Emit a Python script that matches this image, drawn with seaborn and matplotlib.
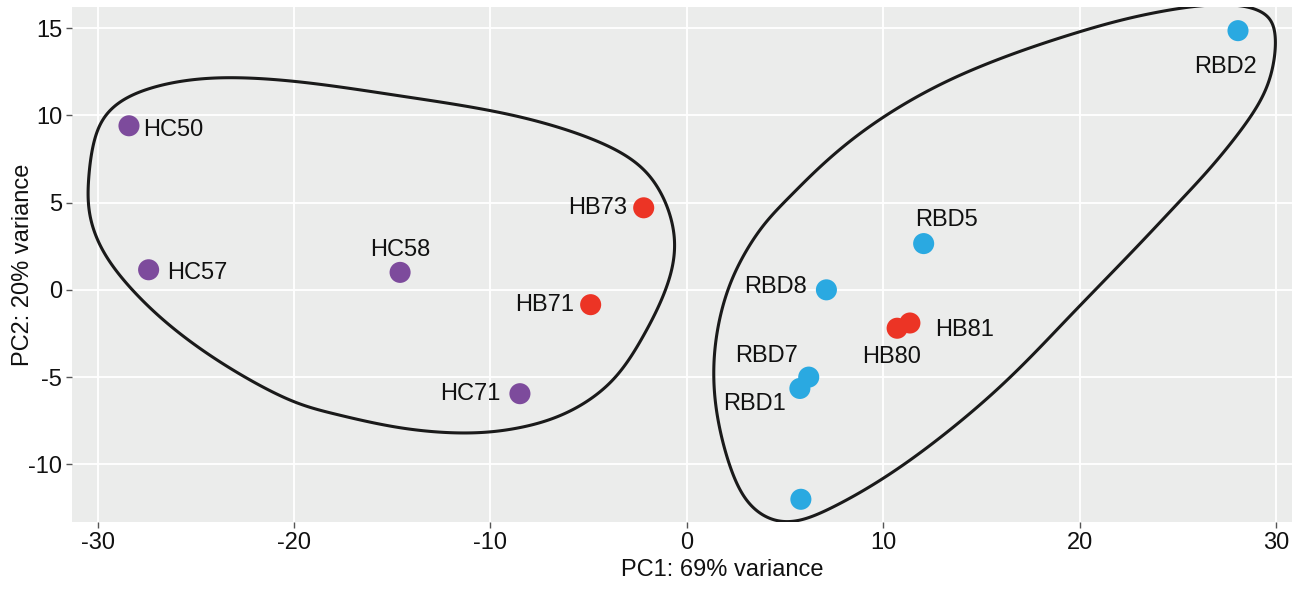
import numpy as np
import pandas as pd
import matplotlib
matplotlib.use("Agg")
from matplotlib import pyplot as plt
import seaborn as sns

# PCA scores
samples = ["HC50", "HC57", "HC58", "HC71", "HB73", "HB71", "RBD8", "RBD5",
           "HB80", "HB81", "RBD7", "RBD1", "RBD6", "RBD2"]
groups = ["HC", "HC", "HC", "HC", "HB", "HB", "RBD", "RBD",
          "HB", "HB", "RBD", "RBD", "RBD", "RBD"]
pc1 = [-28.4, -27.4, -14.6, -8.5, -2.2, -4.9, 7.1, 12.05,
       10.7, 11.35, 6.2, 5.75, 5.8, 28.05]
pc2 = [9.4, 1.15, 1.0, -5.95, 4.7, -0.85, 0.0, 2.65,
       -2.2, -1.9, -5.0, -5.65, -12.0, 14.85]
# the lowest RBD point carries no label in the original
show_label = [True] * 12 + [False, True]

# hand drawn outlines (data units), used as B-spline control points
left_x = [-30.5, -30.2, -29.4, -27.6, -24.3, -19.7, -14.6, -8.5, -3.4,
          -1.4, -0.4, -0.9, -2.2, -3.7, -6.1, -8.6, -11.2,
          -14.6, -18.0, -20.1, -23.2, -25.8, -27.9, -29.7, -30.5]
left_y = [6.3, 8.9, 10.5, 11.6, 12.3, 12.0, 11.1, 10.1, 8.2,
          6.2, 3.0, 0.2, -2.7, -5.4, -7.2, -8.0, -8.3,
          -8.0, -7.1, -6.5, -4.6, -2.6, -0.5, 1.9, 4.2]
right_x = [1.3, 1.5, 2.2, 3.7, 5.2, 8.2, 13.3, 20.1, 23.6, 27.2,
           29.4, 30.1, 29.8, 28.7, 26.7, 25.1, 22.7, 19.3,
           15.9, 10.9, 7.3, 5.5, 4.1, 2.9, 2.1, 1.5]
right_y = [-4.8, -2.2, 0.7, 3.6, 5.3, 8.7, 12.3, 14.9, 15.9, 16.5,
           16.1, 14.9, 12.0, 9.8, 7.0, 5.1, 2.2, -1.7,
           -5.8, -10.3, -12.6, -13.4, -13.2, -12.1, -10.0, -7.3]

palette = {"HC": "#7d4b9c", "HB": "#ec3425", "RBD": "#2aa9e1"}

df = pd.DataFrame({"sample": samples, "group": groups, "PC1": pc1, "PC2": pc2})


def closed_bspline(xs, ys, n=30):
    # uniform periodic cubic B-spline on the outline control points
    p = np.column_stack([xs, ys]).astype(float)
    m = len(p)
    t = np.linspace(0, 1, n, endpoint=False)[:, None]
    b0 = (1 - t) ** 3 / 6
    b1 = (3 * t ** 3 - 6 * t ** 2 + 4) / 6
    b2 = (-3 * t ** 3 + 3 * t ** 2 + 3 * t + 1) / 6
    b3 = t ** 3 / 6
    pts = []
    for i in range(m):
        pts.append(b0 * p[i] + b1 * p[(i + 1) % m] + b2 * p[(i + 2) % m] + b3 * p[(i + 3) % m])
    pts = np.vstack(pts)
    return pts[:, 0], pts[:, 1]


sns.set_theme(style="darkgrid", rc={"axes.facecolor": "#ebeceb",
                                    "grid.color": "white", "grid.linewidth": 1.3})
plt.rcParams["font.family"] = ["Liberation Sans", "DejaVu Sans"]
plt.rcParams["axes.unicode_minus"] = False

fig = plt.figure(figsize=(12.95, 5.91), dpi=100)
ax = fig.add_axes([0.0556, 0.1168, 0.9421, 0.8712])

for xs, ys in [(left_x, left_y), (right_x, right_y)]:
    cx, cy = closed_bspline(xs, ys)
    # closed polygon outline so the ends join cleanly
    ax.fill(cx, cy, facecolor="none", edgecolor="#1a1a1a", lw=2.2,
            joinstyle="round", zorder=2)

sns.scatterplot(data=df, x="PC1", y="PC2", hue="group", palette=palette,
                s=230, edgecolor="none", legend=False, ax=ax, zorder=3)

# label offsets in points and alignment
offsets = {
    "HC50": ((10, -3), "left"), "HC57": ((13, -2), "left"),
    "HC58": ((0, 16), "center"), "HC71": ((-14, 0), "right"),
    "HB73": ((-12, 0), "right"), "HB71": ((-12, 0), "right"),
    "RBD8": ((-14, 2), "right"), "RBD5": ((-6, 17), "left"),
    "HB80": ((-4, -21), "center"), "HB81": ((18, -5), "left"),
    "RBD7": ((-8, 15), "right"), "RBD1": ((-10, -11), "right"),
    "RBD2": ((-9, -26), "center"),
}
for name, x, y, lab in zip(samples, pc1, pc2, show_label):
    if not lab:
        continue
    off, ha = offsets[name]
    ax.annotate(name, (x, y), xytext=off, textcoords="offset points",
                ha=ha, va="center", fontsize=17, color="#111111", zorder=4)

ax.set_xlim(-31.3, 30.8)
ax.set_ylim(-13.3, 16.2)
ax.set_xticks([-30, -20, -10, 0, 10, 20, 30])
ax.set_yticks([-10, -5, 0, 5, 10, 15])
ax.tick_params(axis="both", which="major", length=4, width=1, color="#555555",
               labelsize=17, labelcolor="#111111", pad=3)
ax.tick_params(axis="x", bottom=True)
ax.tick_params(axis="y", left=True)
for sp in ax.spines.values():
    sp.set_visible(False)
ax.set_xlabel("PC1: 69% variance", fontsize=17, color="#111111")
ax.set_ylabel("PC2: 20% variance", fontsize=17, color="#111111")
ax.xaxis.set_label_coords(0.533, -0.072)
ax.yaxis.set_label_coords(-0.031, 0.5)

fig.savefig("out.png", dpi=100, facecolor="white")
